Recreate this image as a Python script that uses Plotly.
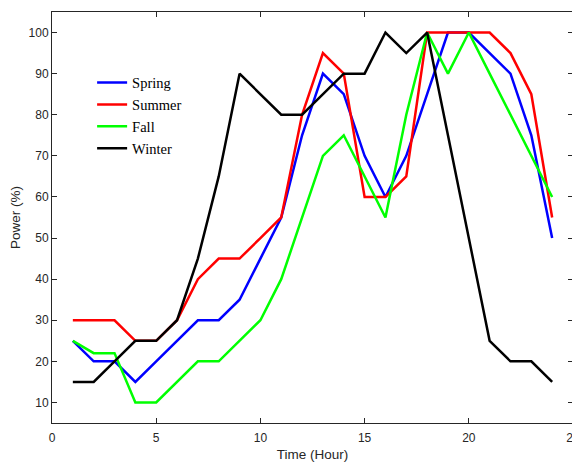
import plotly.graph_objects as go

hours = list(range(1, 25))
spring = [25, 20, 20, 15, 20, 25, 30, 30, 35, 45, 55, 75, 90, 85, 70, 60, 70, 85, 100, 100, 95, 90, 75, 50]
summer = [30, 30, 30, 25, 25, 30, 40, 45, 45, 50, 55, 80, 95, 90, 60, 60, 65, 100, 100, 100, 100, 95, 85, 55]
fall = [25, 22, 22, 10, 10, 15, 20, 20, 25, 30, 40, 55, 70, 75, 65, 55, 80, 100, 90, 100, 90, 80, 70, 60]
winter = [15, 15, 20, 25, 25, 30, 45, 65, 90, 85, 80, 80, 85, 90, 90, 100, 95, 100, 75, 50, 25, 20, 20, 15]

series = [("Spring", spring, "#0000FF"), ("Summer", summer, "#FF0000"),
          ("Fall", fall, "#00FF00"), ("Winter", winter, "#000000")]

fig = go.Figure()
for name, vals, color in series:
    fig.add_trace(go.Scatter(x=hours, y=vals, mode="lines", name=name,
                             line=dict(color=color, width=2.5)))

axis_common = dict(showgrid=False, zeroline=False, showline=True, linecolor="#262626",
                   linewidth=1, mirror="allticks", ticks="inside", ticklen=5, automargin=False,
                   ticklabeloverflow="allow",
                   tickcolor="#262626", tickfont=dict(family="Liberation Sans", size=12, color="#262626"))

title_font = dict(family="Liberation Sans", size=13.5, color="#262626")

fig.update_layout(
    width=572, height=455,
    margin=dict(l=44, r=7, t=4, b=40),
    plot_bgcolor="white", paper_bgcolor="white",
    xaxis=dict(range=[0, 25], tickvals=[0, 5, 10, 15, 20, 25], ticklabelstandoff=4,
               title=dict(text="Time (Hour)", font=title_font, standoff=5),
               **axis_common),
    yaxis=dict(range=[5, 105], tickvals=[10, 20, 30, 40, 50, 60, 70, 80, 90, 100],
               title=dict(text="Power (%)", font=title_font, standoff=5),
               **axis_common),
    legend=dict(x=0.077, y=0.867, xanchor="left", yanchor="top", bgcolor="rgba(0,0,0,0)",
                font=dict(family="Liberation Serif", size=14.5, color="#000000"),
                tracegroupgap=0, itemwidth=30),
    showlegend=True,
)

fig.write_html("out.html")
